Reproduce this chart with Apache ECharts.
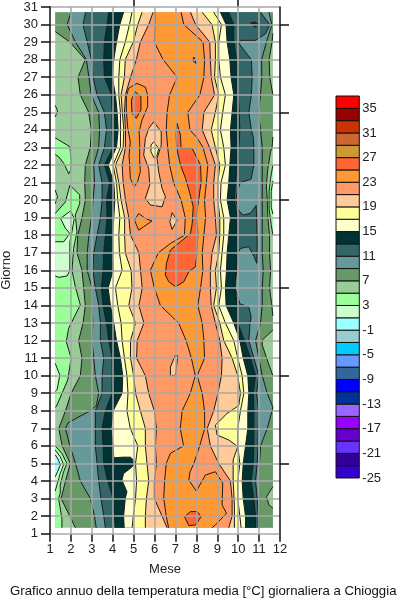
<!DOCTYPE html>
<html>
<head>
<meta charset="utf-8">
<script src="https://cdn.jsdelivr.net/npm/echarts@6/dist/echarts.min.js"></script>
<style>html,body{margin:0;padding:0;background:#fff}#c{width:400px;height:600px}</style>
</head>
<body>
<div id="c"></div>
<script>
// Scale of the colour bar
const legendLevels = [-25,-23,-21,-19,-17,-15,-13,-11,-9,-7,-5,-3,-1,1,3,5,7,9,11,13,15,17,19,21,23,25,27,29,31,33,35];
const legendColors = ['#3300cc','#330099','#6633ff','#6600cc','#9900ff','#9966ff','#003399','#0000ff','#336699','#6699ff','#00ccff','#99cccc','#99ffff','#ccffcc','#99ff99','#99cc99','#669966','#669999','#336666','#003333','#ffffcc','#ffff99','#ffcc99','#ff9966','#ff9933','#ff6633','#cc9933','#cc6633','#cc3300','#990000','#ff0000'];
const legendLabels = [35,31,27,23,19,15,11,7,3,-1,-5,-9,-13,-17,-21,-25];
const monthExtent = [1.25, 11.66];
const dayExtent = [1.34, 30.7];

// Day rows on which the contour crossings were read
const days = [30.7,30,29,28,27,26,25,24,23,22,21,20,19,18,17,16,15,14,13,12,11,10,9,8,7,6,5,4,3,2,1.34];

// Month at which temperature crosses each level, left (rising) flank of the year
const left7 = [[1.25,30.7],[1.25,29.6],[1.95,29],[2.69,28],[2.34,27],[2.45,26],[2.85,25],[2.98,24],[2.93,23],[2.69,22],[2.66,21],[2.69,20],[2.53,19],[2.33,18],[2.29,17],[2.53,16],[2.61,15],[2.69,14],[2.58,13],[2.37,12],[2.53,11],[2.45,10],[2.01,9],[1.74,8],[1.42,7],[1.58,6],[1.97,5],[1.74,4],[1.53,3],[1.95,2],[2.21,1.34]];
const left9 = [[2.01,30.7],[1.82,30],[2.22,29],[2.74,28],[2.86,27],[2.97,26],[3.33,25],[3.37,24],[3.33,23],[3.09,22],[3.13,21],[3.06,20],[2.98,19],[2.86,18],[2.78,17],[2.78,16],[3.01,15],[3.01,14],[3.05,13],[3.01,12],[3.09,11],[3.17,10],[3.33,9],[3.22,8.3],[2.93,8],[2.29,7.6],[1.85,7.3],[1.74,7],[1.95,6],[2.22,5],[2.45,4],[2.93,3],[3.13,2],[3.21,1.34]];
const left11 = [2.70,2.58,2.78,2.98,3.06,3.25,3.6,3.7,3.6,3.33,3.49,3.49,3.41,3.25,3.09,3.05,3.17,3.33,3.41,3.41,3.57,3.49,3.49,3.17,3.17,3.17,3.25,3.33,3.44,3.57,3.65];
const left13 = [3.81,3.73,3.6,3.57,3.6,3.94,3.97,3.97,4.02,3.6,3.86,3.7,3.73,3.65,3.57,3.54,3.46,3.54,3.7,3.81,3.97,3.97,3.97,3.65,3.49,3.54,3.57,3.76,4.02,4.08,4.13];
const left15 = [[4.52,30.7],[4.34,30],[4.18,29],[4.05,28],[3.98,27],[4.13,26],[4.21,25],[4.26,24],[4.18,23],[3.78,22],[4.05,21],[4.1,20],[4.05,19],[4.0,18],[4.0,17],[4.02,16],[3.78,15],[3.89,14],[4.05,13],[4.18,12],[4.37,11],[4.48,10],[4.45,9],[4.02,8],[3.92,7],[4.02,6],[4.05,5.32],[4.5,5.36],[4.84,5.36],[5.0,5.19],[5.0,4.9],[4.84,4.72],[4.52,4.43],[4.44,4.05],[4.68,3.39],[4.6,3],[4.52,2],[4.55,1.34]];
const left17 = [4.92,4.8,4.6,4.34,4.29,4.29,4.37,4.37,4.37,4.02,4.18,4.24,4.34,4.29,4.32,4.45,4.13,4.24,4.4,4.45,4.56,4.68,4.73,4.68,4.84,5.2,5.09,5.14,5.09,4.98,4.93];
const left19 = [5.4,5.2,4.98,4.6,4.56,4.4,4.46,4.53,4.5,4.13,4.29,4.4,4.57,4.57,4.6,4.88,4.92,4.77,5.09,4.85,4.85,5.0,5.09,5.32,5.56,5.56,5.64,5.72,5.61,5.56,5.56];
const left21 = [5.93,5.72,5.32,5.13,4.85,4.61,4.56,4.61,4.61,4.45,4.5,4.61,4.77,4.85,5.25,5.33,5.41,5.25,5.49,5.17,5.14,5.56,5.72,5.99,6.09,6.04,6.09,5.99,5.99,6.36,6.6];
const left23 = [[6.04,30.7],[6.04,30],[5.99,29],[6.41,28],[7.08,27],[6.72,26],[6.6,25],[6.56,24],[6.63,23],[6.72,22],[6.91,21],[7.27,20],[7.47,19],[7.43,18],[6.76,17.53],[6.18,17],[5.8,16],[5.99,15],[6.28,14],[7.15,13],[7.51,12],[7.76,11],[7.95,10],[7.71,9],[7.32,8],[7.23,7],[7.39,6],[6.76,5.58],[6.56,5],[6.48,4],[6.44,3],[6.56,2],[6.67,1.34]];

// Right (falling) flank of the year
const right7 = [[11.66,30.7],[11.66,29.5],[11.62,29],[11.48,28],[11.51,27],[11.66,26],[11.66,23.6],[11.62,23],[11.55,22.75],[11.42,21.8],[11.35,20.85],[11.39,20],[11.42,19],[11.5,18],[11.5,17],[11.55,16],[11.5,15],[11.6,14.1],[11.66,13.4],[11.66,12.6],[11.15,12.03],[11.15,11.75],[11.39,10.9],[11.66,10],[11.66,1.34]];
const right9 = [[11.47,30.7],[11.61,30],[11.35,29],[11.12,28],[11.13,27],[11.07,26],[10.96,25],[11.07,24],[11.15,23],[11.15,22],[11.15,21],[11.15,20],[11.15,19],[11.15,18],[11.15,17],[11.2,16],[11.15,15],[11.15,14],[11.07,13],[10.83,12],[10.99,11],[11.15,10],[11.39,9],[11.66,8.2],[11.62,8],[11.39,7],[11.07,6],[11.02,5],[11.02,4],[11.02,3],[11.02,2],[11.02,1.34]];
const right11 = [[11.07,30.7],[11.51,30],[11.31,29.48],[10.83,29.1],[10.11,29.1],[10.05,28.9],[10.63,28],[10.67,27],[10.63,26],[10.51,25],[10.63,24],[10.72,23.6],[10.75,23],[10.75,22],[10.62,21.2],[10.11,21],[9.98,20.6],[9.89,20],[10.03,19.4],[10.24,19.15],[10.59,19.25],[10.86,19.7],[10.88,18.95],[10.91,17.45],[10.89,16.4],[10.75,16.8],[10.51,17.35],[10.11,17.25],[10.01,17.05],[9.92,16],[9.85,15],[10.08,14.1],[10.51,13.9],[10.62,13.35],[10.56,12.9],[10.51,12],[10.75,11],[10.99,10],[10.88,9],[10.99,8],[10.96,7],[10.94,6],[10.91,5],[10.83,4],[10.91,3],[10.96,2],[10.96,1.34]];
const right13 = [9.55,9.79,9.79,9.92,10.0,10.0,10.05,10.08,10.03,9.98,9.87,9.82,9.95,9.95,9.98,9.92,9.82,9.98,9.98,10.3,10.59,10.83,10.72,10.75,10.75,10.75,10.72,10.62,10.75,10.83,10.83];
const right15 = [9.15,9.42,9.47,9.6,9.66,9.79,9.71,9.63,9.66,9.6,9.55,9.47,9.63,9.55,9.47,9.44,9.39,9.42,9.79,10.08,10.24,10.46,10.51,10.46,10.46,10.35,10.24,10.19,10.24,10.35,10.35];
const right17 = [8.83,9.2,9.07,9.07,9.15,9.39,9.26,9.15,9.31,9.39,9.18,9.15,9.31,9.31,9.23,9.15,9.2,9.07,9.39,9.79,9.98,10.19,10.27,10.11,9.98,9.98,10.08,9.98,9.98,10.08,10.14];
const right19 = [[8.28,30.7],[8.75,30],[8.91,29],[8.91,28],[8.87,27],[9.07,26],[8.91,25],[8.71,24],[8.91,23],[9.12,22],[9.03,21],[9.03,20],[9.12,19],[9.12,18],[9.07,17],[8.91,16],[8.96,15],[8.83,14],[9.12,13],[9.31,12],[9.71,11],[9.98,10],[10.11,9],[10.03,8.3],[9.47,7.85],[8.91,7.19],[8.99,6.62],[9.55,6.34],[9.98,5.96],[9.76,5.2],[9.76,3.96],[9.82,2.64],[9.82,1.34]];
const right21 = [7.72,7.96,8.64,8.67,8.71,8.87,8.36,8.28,8.63,8.91,8.83,8.83,8.91,8.96,8.75,8.67,8.67,8.71,8.91,9.12,9.23,9.2,9.03,8.83,8.52,8.67,9.07,9.63,9.71,9.71,9.55];
const right23 = [[7.27,30.7],[7.4,30],[8.32,29],[8.39,28],[8.36,27],[8.17,26],[7.59,25],[7.69,24],[8.0,23.6],[8.32,23],[8.55,22],[8.48,21],[8.39,20],[8.44,19],[8.36,18],[8.28,17],[8.31,16],[8.2,15],[8.07,14],[8.28,13],[8.36,12],[8.39,11],[8.04,10],[8.28,9],[8.39,8],[8.4,7],[8.16,6],[7.88,5],[7.69,4.5],[7.64,4.05],[8.0,3.43],[8.43,4.34],[8.91,4.53],[9.26,3.87],[9.23,2.64],[9.44,2.16],[8.91,1.5],[8.75,1.34]];

// Closed contours: [month, day] vertices; the band value inside each is given where it is drawn
const cold5a = [[1.25,23.55],[1.95,23.04],[2.01,22.28],[1.98,21.7],[1.9,21.5],[1.66,22.09],[1.42,22.47],[1.25,22.6]];
const cold5b = [[1.25,19.24],[1.74,19.9],[1.95,20.85],[2.42,20.29],[2.42,19.8],[2.21,19.15],[2.29,18.2],[2.13,17.25],[2.05,16],[2.21,15.07],[2.45,14.03],[1.89,12.7],[1.78,11.94],[2.01,11],[1.85,9.76],[1.3,8.24],[1.25,8.2]];
const cold5c = [[1.25,6],[1.57,5.57],[1.81,5],[1.65,4.53],[1.49,3.77],[1.49,3.3],[1.41,3.01],[1.57,1.87],[1.57,1.34],[1.25,1.34]];
const cold5d = [[1.25,25.4],[1.36,25.08],[1.25,24.74]];
const cold5e = [[1.25,20.57],[1.36,20.19],[1.25,19.8]];
const cold5r = [[11.66,22],[11.55,21.24],[11.48,20.5],[11.48,19.5],[11.58,18.6],[11.66,18]];
const cold3a = [[1.25,17.63],[1.66,17.63],[1.95,18.1],[1.74,18.39],[1.5,18.96],[1.98,19.38],[2.16,18.96],[2.05,18.2],[1.95,17.63],[1.95,16],[1.82,15.68],[1.42,15.6],[1.25,15.68]];
const cold3b = [[1.25,10.7],[1.47,10.04],[1.34,9.2],[1.25,9.1]];
const cold3c = [[1.25,5.76],[1.49,5.38],[1.65,4.94],[1.49,4.43],[1.33,3.77],[1.25,3.43]];
const cold3r = [[11.66,21.1],[11.58,20.5],[11.58,19.6],[11.66,19.2]];
const cold1c = [[1.25,5.5],[1.41,5.19],[1.49,4.9],[1.36,4.53],[1.25,4.24]];
const warm7r = [[11.66,3.68],[11.36,3.11],[11.47,2.64],[11.66,2.45]];
const eye13 = [[10.59,30.09],[10.8,30.15],[10.99,30.0],[10.8,29.85]];
const orangeOval = [[5.16,26.65],[5.56,26.44],[5.67,25.99],[5.67,25.32],[5.4,24.56],[5.26,23.89],[5.29,23.32],[5.29,22.28],[5.32,21.62],[5.19,21.05],[5.03,20.76],[4.84,21.24],[4.81,22.0],[4.78,22.56],[4.84,23.32],[4.71,24.18],[4.65,25.12],[4.65,25.89],[4.76,26.37]];
const tomatoOval = [[5.08,26.17],[5.35,25.89],[5.35,25.13],[5.13,24.66],[4.92,24.94],[4.89,25.7]];
const peachHole = [[5.96,24.46],[6.32,23.89],[6.32,23.13],[6.12,22.37],[6.2,21.61],[6.36,20.67],[6.52,20.19],[6.36,19.62],[5.8,19.72],[5.56,20.1],[5.77,20.86],[5.72,21.8],[5.48,22.56],[5.56,23.51],[5.72,24.08]];
const yellowHole = [[5.96,23.32],[6.2,22.94],[6.12,22.56],[5.99,22.37],[5.83,22.75],[5.83,23.13]];
const orangeSmall = [[5.24,19.24],[5.56,18.96],[5.88,18.81],[5.48,18.48],[5.24,18.29],[5.04,18.86]];
const peachSmall = [[6.84,19.28],[7.08,18.86],[6.84,18.33],[6.73,18.77]];
const peachNarrow = [[7.0,11.18],[7.11,11.12],[7.0,10.04],[6.76,9.98],[6.76,10.5]];
const salmonNotch = [[7.88,28.15],[8.0,27.77],[7.83,27.93]];
const tomatoBig = [[7.08,24.37],[7.0,23.7],[7.08,22.85],[7.24,22.0],[7.48,21.24],[7.69,20.38],[7.85,19.62],[7.8,18.67],[7.72,18.1],[7.24,17.63],[6.76,17.16],[6.57,16.4],[6.52,15.73],[6.68,15.35],[7.0,15.07],[7.4,15.35],[7.64,15.92],[7.96,16.21],[8.04,17.06],[8.07,18.2],[8.0,19.15],[8.12,20.1],[8.23,21.05],[8.2,22.0],[7.8,22.94],[7.27,22.94],[7.24,23.7]];
const tomatoLow = [[7.43,1.97],[7.72,2.26],[8.04,2.26],[8.23,1.97],[7.96,1.5],[7.64,1.46]];

const colorOf = t => legendColors[legendLevels.indexOf(t)];
const rows = vals => vals.map((m, i) => [m, days[i]]);
const band = (t, l, r) => ({ t, pts: l.concat(r.slice().reverse()) });
const isl = (t, pts) => ({ t, pts });

const shapes = [
  isl(5, [[monthExtent[0],dayExtent[1]],[monthExtent[1],dayExtent[1]],[monthExtent[1],dayExtent[0]],[monthExtent[0],dayExtent[0]]]),
  isl(3, cold5a), isl(3, cold5b), isl(3, cold5c), isl(3, cold5d), isl(3, cold5e), isl(3, cold5r),
  isl(1, cold3a), isl(1, cold3b), isl(1, cold3c), isl(1, cold3r),
  isl(-1, cold1c),
  band(7, left7, right7),
  isl(5, warm7r),
  band(9, left9, right9),
  band(11, rows(left11), right11),
  band(13, rows(left13), rows(right13)),
  isl(13, eye13),
  band(15, left15, rows(right15)),
  band(17, rows(left17), rows(right17)),
  band(19, rows(left19), right19),
  band(21, rows(left21), rows(right21)),
  isl(19, peachHole), isl(17, yellowHole), isl(19, peachSmall), isl(19, peachNarrow),
  isl(23, orangeOval), isl(25, tomatoOval), isl(23, orangeSmall),
  band(23, left23, right23),
  isl(21, salmonNotch), isl(25, tomatoBig), isl(25, tomatoLow)
];

const onEdge = (a, b) =>
  (a[0] <= monthExtent[0] && b[0] <= monthExtent[0]) ||
  (a[0] >= monthExtent[1] && b[0] >= monthExtent[1]) ||
  (a[1] >= dayExtent[1] && b[1] >= dayExtent[1]) ||
  (a[1] <= dayExtent[0] && b[1] <= dayExtent[0]);

const stroke = pts => ({
  type: 'polyline', shape: { points: pts }, silent: true,
  style: { fill: null, stroke: '#1c1c1c', lineWidth: 1 }
});

function renderContour(params, api) {
  const s = shapes[api.value(0)];
  const pix = s.pts.map(p => api.coord(p));
  const children = [{
    type: 'polygon', shape: { points: pix },
    style: { fill: colorOf(s.t), stroke: null }, silent: true
  }];
  let run = [];
  const n = s.pts.length;
  for (let i = 0; i < n; i++) {
    const j = (i + 1) % n;
    if (onEdge(s.pts[i], s.pts[j])) {
      if (run.length > 1) children.push(stroke(run));
      run = [];
    } else {
      if (!run.length) run.push(pix[i]);
      run.push(pix[j]);
    }
  }
  if (run.length > 1) children.push(stroke(run));
  return { type: 'group', children };
}

function renderLegend(params, api) {
  const v = api.value(0);
  const a = api.coord([0, v + 2]);
  const b = api.coord([1, v]);
  return {
    type: 'rect',
    shape: { x: a[0], y: a[1], width: b[0] - a[0], height: b[1] - a[1] },
    style: { fill: legendColors[params.dataIndex], stroke: '#111', lineWidth: 1 }
  };
}

const txt = { fontFamily: '"Liberation Sans", Arial, sans-serif', fontSize: 13, color: '#222' };
const grayLine = { show: true, lineStyle: { color: '#a8a8a8', width: 1.5 } };
const black = { color: '#111', width: 1.5 };

const chart = echarts.init(document.getElementById('c'), null, { renderer: 'canvas' });
chart.setOption({
  animation: false,
  backgroundColor: '#fff',
  title: {
    text: 'Grafico annuo della temperatura media [°C] giornaliera a Chioggia',
    left: 10, top: 585, padding: 0,
    textStyle: Object.assign({}, txt, { fontWeight: 'normal', color: '#111', fontSize: 13.2 })
  },
  grid: [
    { left: 50, top: 7, width: 230, height: 526.7, outerBoundsMode: 'none', containLabel: false },
    { left: 336, top: 96, width: 23.3, height: 382, outerBoundsMode: 'none', containLabel: false }
  ],
  xAxis: [
    { gridIndex: 0, type: 'value', min: 1, max: 12, interval: 1, z: 5,
      name: 'Mese', nameLocation: 'middle', nameGap: 29, nameTextStyle: txt,
      axisLine: { show: false },
      axisTick: { length: 8, lineStyle: black },
      axisLabel: Object.assign({ margin: 9, showMinLabel: true, showMaxLabel: true, hideOverlap: false }, txt),
      splitLine: Object.assign({ showMinLine: false, showMaxLine: false }, grayLine) },
    { gridIndex: 0, type: 'value', position: 'top', min: 1, max: 12, z: 5,
      axisLine: { show: false },
      axisTick: { length: 7, lineStyle: black, customValues: [5, 10] },
      axisLabel: { show: false }, splitLine: { show: false } },
    { gridIndex: 1, type: 'value', min: 0, max: 1, show: false }
  ],
  yAxis: [
    { gridIndex: 0, type: 'value', min: 1, max: 31, interval: 1, z: 6,
      name: 'Giorno', nameLocation: 'middle', nameRotate: 90, nameGap: 36, nameTextStyle: txt,
      axisLine: { show: true, onZero: false, lineStyle: black },
      axisTick: { length: 9, lineStyle: black },
      axisLabel: Object.assign({ margin: 12, showMinLabel: true, showMaxLabel: true, hideOverlap: false }, txt),
      splitLine: grayLine },
    { gridIndex: 0, type: 'value', position: 'right', min: 1, max: 31, z: 6,
      axisLine: { show: true, onZero: false, lineStyle: black },
      axisTick: { length: 9, lineStyle: black, customValues: [5, 10, 15, 20, 25, 30] },
      axisLabel: { show: false }, splitLine: { show: false } },
    { gridIndex: 1, type: 'value', position: 'right', min: -25, max: 37,
      axisLine: { show: false }, axisTick: { show: false }, splitLine: { show: false },
      axisLabel: Object.assign({ margin: 3, customValues: legendLabels, showMinLabel: true, hideOverlap: false }, txt) }
  ],
  series: [
    { type: 'custom', xAxisIndex: 0, yAxisIndex: 0, z: 2, clip: false, silent: true,
      renderItem: renderContour, data: shapes.map((s, i) => [i]), encode: { x: 0 } },
    { type: 'custom', xAxisIndex: 2, yAxisIndex: 2, z: 2, clip: false, silent: true,
      renderItem: renderLegend, data: legendLevels.map(v => [v]), encode: { y: 0 } }
  ]
});
</script>
</body>
</html>
